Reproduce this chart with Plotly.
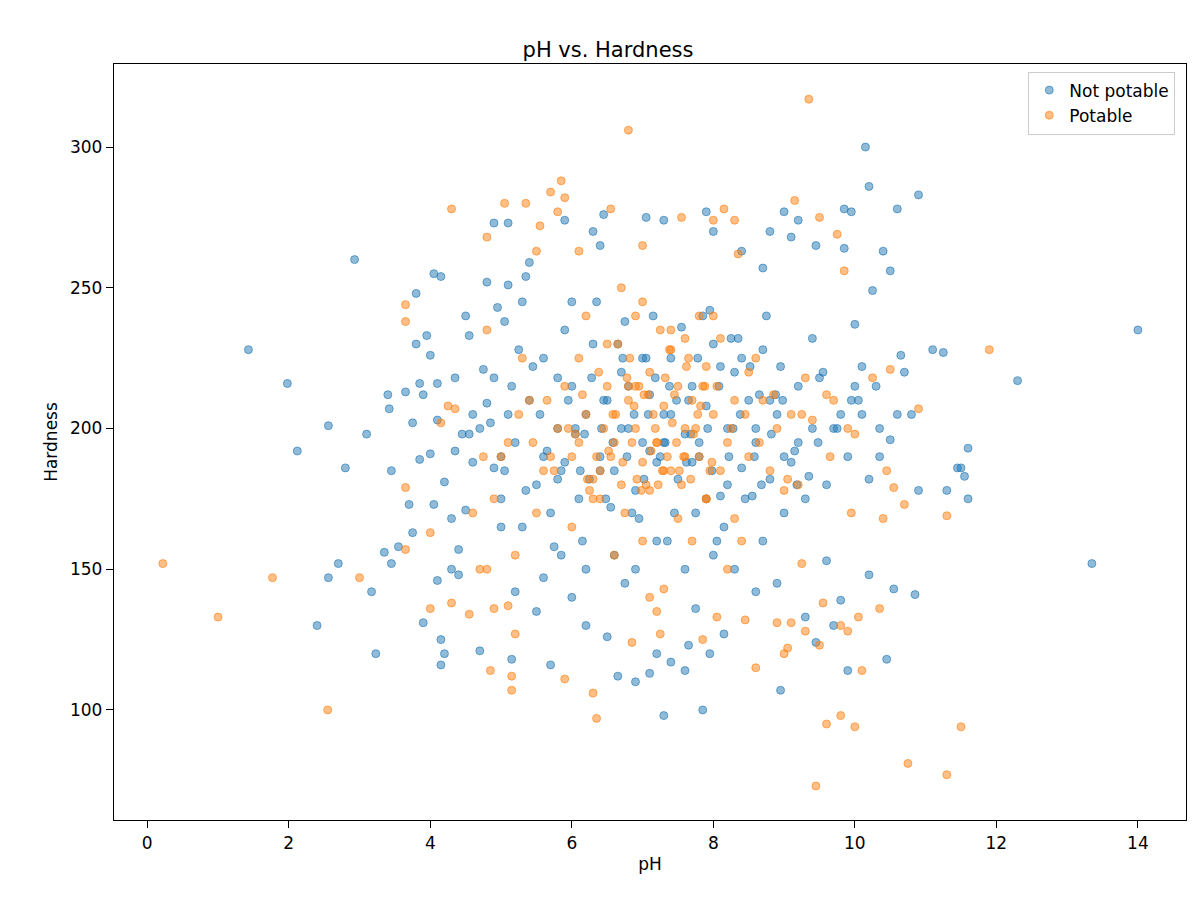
import plotly.graph_objects as go

# Not potable: (pH, Hardness)
not_potable_ph = [
    1.43, 1.98, 2.12, 2.56, 2.56, 2.7, 2.4, 2.8, 2.93, 3.1, 3.17, 3.23, 3.35, 3.4, 3.42, 3.45, 3.45, 3.55,
    3.65, 3.7, 3.75, 3.75, 3.8, 3.8, 3.85, 3.85, 3.9, 3.9, 3.95, 4.0, 4.0, 4.05, 4.05, 4.1, 4.1, 4.1, 4.15,
    4.15, 4.15, 4.2, 4.2, 4.3, 4.3, 4.35, 4.35, 4.4, 4.4, 4.5, 4.5, 4.55, 4.55, 4.6, 4.7, 4.75, 4.8, 4.8,
    4.9, 4.9, 4.95, 5.0, 5.05, 5.1, 5.1, 5.15, 5.2, 5.3, 5.35, 5.4, 5.5, 5.6, 5.7, 5.8, 5.85, 5.9, 6.0,
    6.05, 6.2, 6.3, 6.4, 6.45, 6.5, 6.65, 6.75, 6.9, 7.05, 7.1, 7.2, 7.3, 7.3, 7.4, 7.6, 7.65, 7.75, 7.85,
    7.9, 7.95, 8.0, 8.15, 8.4, 8.6, 8.7, 8.8, 8.9, 8.95, 9.0, 9.1, 9.2, 9.3, 9.45, 9.45, 9.6, 9.7, 9.8,
    9.85, 9.85, 9.9, 9.95, 10.0, 10.1, 10.15, 10.2, 10.2, 10.2, 10.25, 10.35, 10.4, 10.45, 10.5, 10.55,
    10.6, 10.65, 10.7, 10.85, 10.9, 10.9, 11.1, 11.25, 11.3, 11.45, 11.5, 11.55, 11.6, 11.6, 12.3, 13.35, 14.0,
    # dense core
    5.2, 5.4, 5.5, 5.6, 5.7, 5.8, 5.9, 6.0, 6.1, 6.2, 6.3, 6.4, 6.5, 6.6, 6.7, 6.8, 6.9, 7.0, 7.1, 7.2,
    7.3, 7.4, 7.5, 7.6, 7.7, 7.8, 7.9, 8.0, 8.1, 8.2, 8.3, 8.4, 8.5, 8.6, 8.7, 8.8, 8.9, 9.0, 9.2, 9.4,
    5.3, 5.6, 5.9, 6.15, 6.35, 6.55, 6.75, 6.95, 7.15, 7.35, 7.55, 7.75, 7.95, 8.15, 8.35, 8.55, 8.75, 9.1, 9.5, 9.8,
    5.45, 5.75, 6.05, 6.25, 6.45, 6.65, 6.85, 7.05, 7.25, 7.45, 7.65, 7.85, 8.05, 8.25, 8.45, 8.65, 8.95, 9.3, 9.7, 10.0,
    4.7, 4.9, 5.0, 5.1, 6.6, 6.9, 7.0, 7.2, 7.6, 8.0, 8.3, 8.7, 9.0, 9.6, 10.3, 10.5, 10.8, 4.6, 5.0, 6.2,
    6.7, 7.1, 7.4, 7.8, 8.2, 8.6, 9.2, 9.9, 10.1, 6.4, 6.8, 7.3, 7.7, 8.1, 8.8, 5.8, 6.0, 7.9, 8.4, 9.4,
    5.05, 5.25, 5.55, 5.65, 5.95, 6.12, 6.28, 6.42, 6.58, 6.72, 6.88, 7.02, 7.18, 7.32, 7.48, 7.62, 7.78, 7.92, 8.08, 8.22,
    8.38, 8.52, 8.68, 8.82, 8.98, 9.15, 9.35, 9.55, 9.75, 9.95, 4.85, 5.15, 5.35, 5.85, 6.18, 6.48, 6.78, 7.08, 7.38, 7.68,
    7.98, 8.28, 8.58, 8.88, 9.18, 9.48, 10.05, 10.35, 10.6, 4.45,
]
not_potable_hardness = [
    228, 216, 192, 201, 147, 152, 130, 186, 260, 198, 142, 120, 156, 212, 207, 152, 185, 158,
    213, 173, 163, 202, 248, 230, 216, 189, 131, 212, 233, 226, 191, 255, 173, 146, 203, 216, 125,
    116, 254, 181, 120, 168, 150, 192, 218, 148, 157, 240, 171, 233, 198, 188, 121, 221, 252, 209,
    273, 186, 243, 165, 238, 273, 251, 118, 142, 245, 254, 259, 135, 147, 116, 218, 155, 274, 140,
    200, 130, 270, 265, 276, 126, 112, 145, 110, 275, 113, 120, 98, 274, 117, 114, 123, 136, 100,
    277, 120, 270, 127, 263, 142, 257, 270, 145, 107, 277, 268, 274, 133, 124, 265, 153, 130, 139,
    278, 264, 114, 277, 237, 222, 300, 286, 182, 148, 249, 200, 263, 118, 256, 143,
    278, 226, 220, 141, 283, 178, 228, 227, 178, 186, 186, 183, 193, 175, 217, 152, 235,
    # dense core
    195, 210, 180, 225, 170, 200, 188, 215, 175, 205, 230, 190, 210, 185, 220, 200, 178, 195, 212, 188,
    205, 225, 182, 198, 215, 190, 208, 230, 176, 200, 220, 186, 210, 195, 228, 182, 205, 190, 215, 200,
    165, 190, 235, 160, 245, 172, 238, 168, 240, 160, 236, 170, 242, 165, 232, 176, 240, 188, 218, 205,
    222, 158, 198, 182, 210, 230, 170, 225, 190, 170, 210, 240, 160, 232, 175, 212, 222, 175, 200, 215,
    200, 218, 175, 205, 155, 150, 225, 160, 150, 155, 150, 160, 170, 180, 215, 196, 205, 205, 190, 150,
    200, 192, 205, 195, 180, 200, 195, 190, 205, 185, 215, 195, 188, 222, 210, 182, 245, 175, 225, 232,
    185, 228, 205, 192, 210, 185, 218, 200, 195, 225, 205, 182, 218, 195, 210, 188, 225, 200, 215, 190,
    205, 222, 180, 198, 210, 192, 183, 220, 200, 210, 202, 215, 178, 185, 198, 175, 190, 205, 215, 198,
    185, 200, 190, 212, 180, 195, 210, 190, 205, 198,
]

# Potable
potable_ph = [
    0.22, 1.0, 1.77, 2.55, 3.0, 3.65, 3.65, 3.65, 3.65, 4.0, 4.0, 4.15, 4.25, 4.3, 4.3, 4.35, 4.55, 4.6,
    4.8, 4.8, 4.85, 4.9, 5.05, 5.1, 5.15, 5.15, 5.2, 5.35, 5.5, 5.55, 5.7, 5.8, 5.85, 5.9, 5.9, 6.1, 6.3,
    6.35, 6.55, 6.8, 6.85, 7.0, 7.1, 7.2, 7.25, 7.3, 7.55, 7.85, 8.0, 8.05, 8.15, 8.3, 8.35, 8.45, 8.6,
    8.9, 9.0, 9.05, 9.1, 9.15, 9.25, 9.3, 9.35, 9.5, 9.5, 9.55, 9.6, 9.75, 9.8, 9.8, 9.85, 9.9, 9.95,
    10.0, 10.05, 10.1, 10.25, 10.35, 10.4, 10.45, 10.5, 10.55, 10.7, 10.75, 10.9, 11.3, 11.3, 11.5, 11.9, 9.45,
    # dense core
    6.0, 6.2, 6.4, 6.5, 6.6, 6.7, 6.8, 6.9, 7.0, 7.1, 7.2, 7.3, 7.4, 7.5, 7.6, 7.7, 7.8, 7.9, 8.0, 8.2,
    6.1, 6.3, 6.45, 6.55, 6.65, 6.75, 6.85, 6.95, 7.05, 7.15, 7.25, 7.35, 7.45, 7.55, 7.65, 7.75, 7.85, 8.1, 8.3, 8.5,
    5.6, 5.8, 6.0, 6.5, 6.9, 7.0, 7.3, 7.6, 7.9, 8.4, 8.7, 9.0, 9.3, 5.2, 5.4, 4.9, 5.0, 4.7, 6.2, 6.6,
    7.1, 7.4, 7.8, 8.2, 8.6, 8.9, 9.2, 9.6, 10.0, 5.3, 5.7, 6.1, 6.8, 7.2, 7.7, 8.0, 8.8, 9.4, 4.8, 5.5,
    6.4, 6.7, 7.0, 7.5, 8.1, 8.5, 9.1, 9.7, 6.3, 6.9, 7.4, 7.9, 5.9, 5.1, 8.3, 7.6,
    6.05, 6.22, 6.38, 6.52, 6.62, 6.72, 6.82, 6.92, 7.02, 7.12, 7.22, 7.32, 7.42, 7.52, 7.62, 7.72, 7.82, 7.95, 8.05, 8.25,
    6.15, 6.35, 6.58, 6.78, 6.98, 7.18, 7.38, 7.58, 7.78, 7.98, 5.75, 5.95, 6.25, 6.88, 7.08, 7.28, 7.48, 7.68, 7.88, 8.45,
    5.45, 5.65, 8.65, 8.85, 9.05, 9.25, 9.65, 9.9, 4.75, 5.25,
]
potable_hardness = [
    152, 133, 147, 100, 147, 244, 238, 179, 157, 163, 136, 202, 208, 278, 138, 207, 134, 170,
    268, 235, 114, 136, 280, 137, 112, 107, 127, 280, 263, 272, 284, 277, 288, 282, 111, 263, 106,
    97, 278, 306, 124, 265, 140, 135, 127, 143, 275, 125, 274, 133, 278, 274, 262, 132, 115,
    131, 120, 122, 131, 281, 152, 128, 317, 275, 123, 138, 95, 269, 98, 130, 256, 128, 170,
    94, 133, 114, 218, 136, 168, 185, 221, 179, 173, 81, 207, 77, 169, 94, 228, 73,
    # dense core
    190, 205, 185, 215, 195, 180, 210, 200, 188, 220, 195, 208, 185, 215, 200, 210, 190, 222, 205, 195,
    225, 175, 200, 190, 230, 170, 195, 215, 180, 205, 235, 190, 212, 180, 225, 200, 215, 185, 210, 220,
    185, 200, 165, 230, 240, 160, 185, 232, 175, 160, 210, 178, 218, 155, 210, 175, 190, 150, 240, 155,
    178, 228, 240, 150, 225, 200, 180, 212, 198, 225, 190, 195, 215, 195, 160, 240, 185, 203, 150, 170,
    175, 250, 245, 168, 232, 190, 205, 210, 182, 215, 235, 175, 215, 195, 168, 190,
    198, 182, 220, 192, 205, 188, 225, 182, 212, 192, 180, 218, 202, 185, 222, 198, 208, 185, 215, 200,
    212, 190, 205, 218, 178, 200, 228, 190, 205, 188, 185, 200, 178, 208, 212, 185, 195, 182, 215, 205,
    195, 210, 195, 212, 182, 205, 190, 200, 190, 205,
]

fig = go.Figure()
fig.add_trace(go.Scatter(
    x=not_potable_ph, y=not_potable_hardness, mode="markers", name="Not potable",
    marker=dict(size=8, color="rgba(31,119,180,0.5)", line=dict(width=1, color="rgba(31,119,180,0.6)")),
))
fig.add_trace(go.Scatter(
    x=potable_ph, y=potable_hardness, mode="markers", name="Potable",
    marker=dict(size=8, color="rgba(255,127,14,0.5)", line=dict(width=1, color="rgba(255,127,14,0.6)")),
))

axis_style = dict(showgrid=False, zeroline=False, showline=True, mirror=True, linecolor="black",
                  linewidth=1.3, ticks="outside", ticklen=7, tickcolor="black",
                  tickfont=dict(size=17, color="black"))
fig.update_xaxes(range=[-0.47, 14.68], dtick=2, title=dict(text="pH", font=dict(size=17), standoff=6), **axis_style)
fig.update_yaxes(range=[60.9, 329.5], dtick=50, title=dict(text="Hardness", font=dict(size=17), standoff=8), **axis_style)

fig.update_layout(
    width=1200, height=900,
    margin=dict(l=106, r=22, t=56, b=88),
    plot_bgcolor="white", paper_bgcolor="white",
    font=dict(family="DejaVu Sans", color="black"),
    title=dict(text="pH vs. Hardness", x=0.5, xanchor="center", y=0.962, font=dict(size=21)),
    legend=dict(x=0.99, y=0.99, xanchor="right", yanchor="top", bgcolor="rgba(255,255,255,0.8)",
                bordercolor="#cccccc", borderwidth=1, font=dict(size=17)),
    showlegend=True,
)

fig.write_html("out.html")
